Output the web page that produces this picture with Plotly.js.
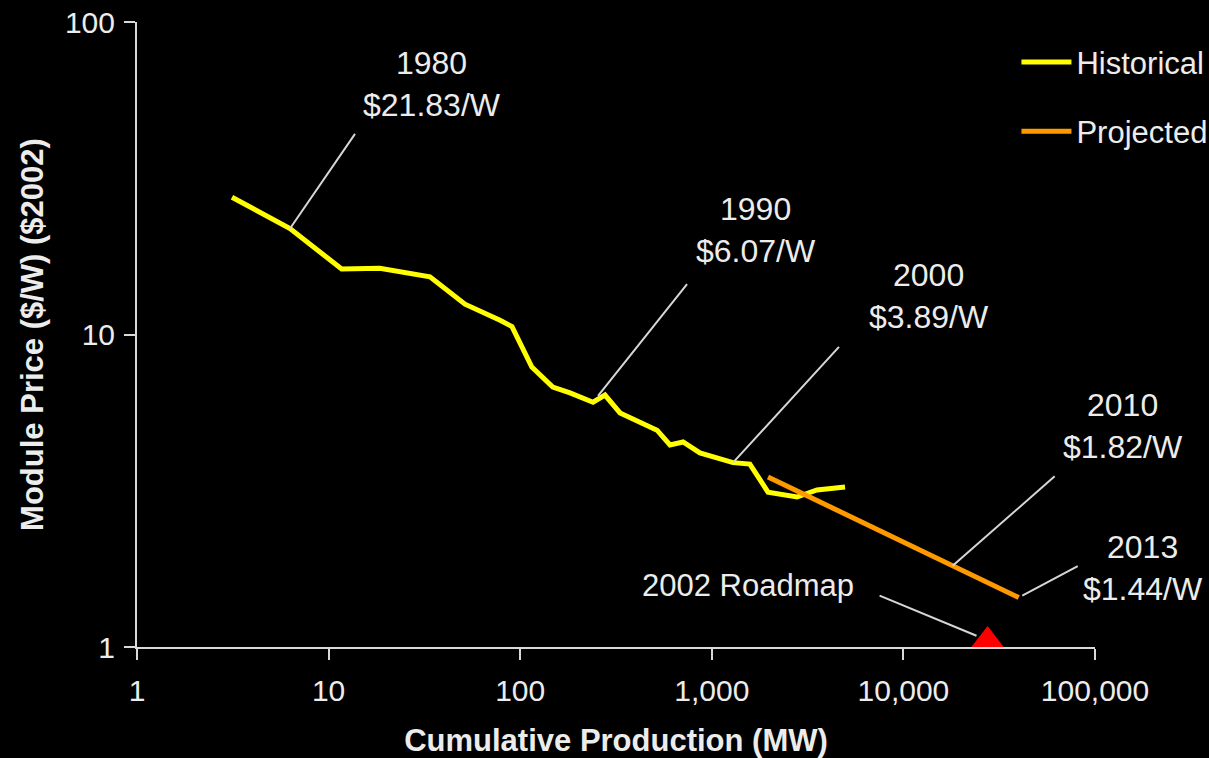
<!DOCTYPE html>
<html>
<head>
<meta charset="utf-8">
<script src="https://cdn.plot.ly/plotly-3.0.1.min.js"></script>
<style>
  html, body { margin: 0; padding: 0; background: #000; }
  #chart { width: 1209px; height: 758px; }
</style>
</head>
<body>
<div id="chart"></div>
<script>
// Historical PV module experience curve: cumulative production (MW) vs module price ($/W, 2002 dollars)
const histMW = [3.13, 6.29, 11.7, 18.5, 33.8, 51.5, 78.5, 90.6, 115, 148, 182, 240, 277, 332, 518, 605, 708, 867, 1290, 1580, 1965, 2785, 3540, 4960];
const histPrice = [27.5, 21.83, 16.2, 16.3, 15.3, 12.5, 11.1, 10.6, 7.87, 6.79, 6.50, 6.07, 6.40, 5.61, 4.94, 4.43, 4.53, 4.18, 3.89, 3.85, 3.13, 3.02, 3.18, 3.25];

// Projected experience curve
const projMW = [1965, 18080, 40000];
const projPrice = [3.50, 1.82, 1.44];

// 2002 Roadmap target
const roadmapMW = [27500];
const roadmapPrice = [1.05];

// Year callouts: which series and which point each one labels
const calloutYears = ['1980', '1990', '2000', '2010', '2013'];
const calloutSeries = ['hist', 'hist', 'hist', 'proj', 'proj'];
const calloutIndex = [1, 11, 18, 1, 2];

// Axis ticks
const xTickVals = [1, 10, 100, 1000, 10000, 100000];
const xTickText = ['1', '10', '100', '1,000', '10,000', '100,000'];
const yTickVals = [1, 10, 100];
const yTickText = ['1', '10', '100'];

const FONT = '"Liberation Sans", Arial, Helvetica, sans-serif';
const TEXT = '#ececec';
const LEADER = '#d6d6d6';

const traces = [
  {
    x: histMW, y: histPrice, name: 'Historical', mode: 'lines',
    line: { color: '#ffff00', width: 5 }, legendgroup: 'h'
  },
  {
    x: projMW, y: projPrice, name: 'Projected', mode: 'lines',
    line: { color: '#ff9900', width: 5 }, legendgroup: 'p'
  },
  {
    x: roadmapMW, y: roadmapPrice, name: '2002 Roadmap', mode: 'markers',
    marker: { symbol: 'triangle-up', size: 29, color: '#ff0000' },
    showlegend: false, cliponaxis: false
  }
];

// Placement of each callout relative to its point (pixels)
const leaderOffsets = [[68, -99], [97, -122], [109, -119], [105, -92], [62, -33]];
const textOffsets = [[142, 145], [163, 172], [196, 167], [170, 140], [124, 30]];
const leaderStandoff = [0, 8, 0, 0, 4];

const annotations = [];
calloutYears.forEach((yr, i) => {
  const xs = calloutSeries[i] === 'hist' ? histMW : projMW;
  const ys = calloutSeries[i] === 'hist' ? histPrice : projPrice;
  const px = Math.log10(xs[calloutIndex[i]]);
  const py = Math.log10(ys[calloutIndex[i]]);
  annotations.push({
    x: px, y: py, xref: 'x', yref: 'y', text: ' ',
    showarrow: true, arrowhead: 0, arrowwidth: 2, arrowcolor: LEADER,
    ax: leaderOffsets[i][0], ay: leaderOffsets[i][1], standoff: leaderStandoff[i]
  });
  annotations.push({
    x: px, y: py, xref: 'x', yref: 'y', showarrow: false,
    xshift: textOffsets[i][0], yshift: textOffsets[i][1],
    text: yr + '<br>$' + ys[calloutIndex[i]].toFixed(2) + '/W',
    font: { family: FONT, size: 32, color: TEXT }, align: 'center'
  });
});

// Roadmap callout
const rx = Math.log10(roadmapMW[0]);
const ry = Math.log10(roadmapPrice[0]);
annotations.push({
  x: rx, y: ry, xref: 'x', yref: 'y', text: ' ',
  showarrow: true, arrowhead: 0, arrowwidth: 2, arrowcolor: LEADER,
  ax: -111, ay: -46, standoff: 12
});
annotations.push({
  x: rx, y: ry, xref: 'x', yref: 'y', showarrow: false,
  xshift: -240, yshift: 55, text: '2002 Roadmap',
  font: { family: FONT, size: 31, color: TEXT }
});

const axisCommon = {
  type: 'log', showgrid: false, zeroline: false,
  showline: true, linecolor: '#d9d9d9', linewidth: 2,
  ticks: 'outside', ticklen: 11, tickwidth: 2, tickcolor: '#d9d9d9',
  tickfont: { family: FONT, size: 30, color: TEXT }
};

const layout = {
  width: 1209, height: 758,
  paper_bgcolor: '#000', plot_bgcolor: '#000',
  margin: { l: 137, r: 114, t: 22, b: 111, autoexpand: false },
  font: { family: FONT, color: TEXT },
  showlegend: true,
  legend: {
    x: 0.918, y: 0.9786, xanchor: 'left', yanchor: 'top',
    bgcolor: 'rgba(0,0,0,0)', font: { family: FONT, size: 31, color: TEXT },
    tracegroupgap: 26, itemwidth: 50
  },
  xaxis: Object.assign({}, axisCommon, {
    range: [0, 5], tickvals: xTickVals, ticktext: xTickText,
    ticklabelstandoff: 5,
    title: { text: '<b>Cumulative Production (MW)</b>', font: { family: FONT, size: 31, color: TEXT }, standoff: 30 }
  }),
  yaxis: Object.assign({}, axisCommon, {
    range: [0, 2], tickvals: yTickVals, ticktext: yTickText,
    ticklabelstandoff: 3,
    title: { text: '<b>Module Price ($/W) ($2002)</b>', font: { family: FONT, size: 31, color: TEXT }, standoff: 12 }
  }),
  annotations: annotations
};

Plotly.newPlot('chart', traces, layout, { displayModeBar: false, staticPlot: true });
</script>
</body>
</html>
